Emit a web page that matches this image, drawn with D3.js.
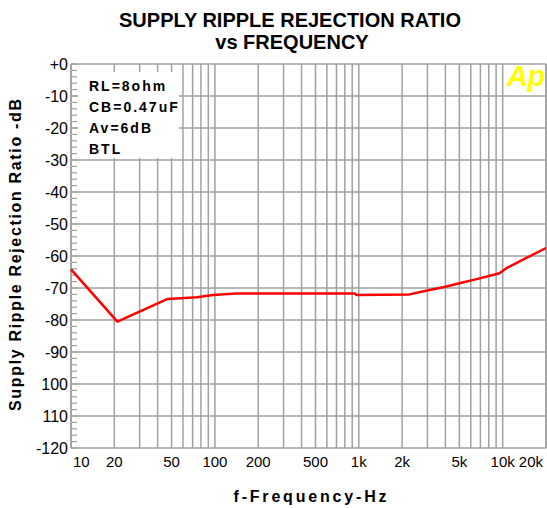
<!DOCTYPE html>
<html>
<head>
<meta charset="utf-8">
<script src="https://cdn.jsdelivr.net/npm/d3@7"></script>
<style>
  body { margin: 0; background: #fff; }
  svg { display: block; font-family: "Liberation Sans", Arial, sans-serif; }
</style>
</head>
<body>
<div id="chart"></div>
<script>
// Supply ripple rejection vs frequency
const freqHz = [10, 21, 47, 75, 97, 140, 940, 960, 2250, 3100, 4000, 5000, 6500, 9500, 10600, 14500, 20000];
const rejectionDb = [-64.2, -80.5, -73.4, -72.9, -72.2, -71.7, -71.7, -72.2, -72, -70.6, -69.6, -68.5, -67.3, -65.4, -63.8, -60.7, -57.5];

const yTicks = [0, -10, -20, -30, -40, -50, -60, -70, -80, -90, -100, -110, -120];
const yTickLabels = ["+0", "-10", "-20", "-30", "-40", "-50", "-60", "-70", "-80", "-90", "100", "110", "-120"];
const xTicks = [10, 20, 50, 100, 200, 500, 1000, 2000, 5000, 10000, 20000];
const xTickLabels = ["10", "20", "50", "100", "200", "500", "1k", "2k", "5k", "10k", "20k"];
const legendLines = ["RL=8ohm", "CB=0.47uF", "Av=6dB", "BTL"];

const width = 547, height = 508;
const plotLeft = 71, plotRight = 546, plotTop = 64, plotBottom = 448;
const gridColor = "#a0a0a0";

const x = d3.scaleLog().domain([10, 20000]).range([plotLeft, plotRight]);
const y = d3.scaleLinear().domain([0, -120]).range([plotTop, plotBottom]);

const svg = d3.select("#chart").append("svg")
  .attr("width", width)
  .attr("height", height);

// vertical grid: every 1..9 multiple
const gridFreqs = [];
for (let dec = 10; dec <= 10000; dec *= 10) {
  for (let m = 1; m <= 9; m++) {
    const f = dec * m;
    if (f <= 20000) gridFreqs.push(f);
  }
}
gridFreqs.push(20000);

svg.append("g").selectAll("line")
  .data(gridFreqs).enter().append("line")
  .attr("x1", d => x(d)).attr("x2", d => x(d))
  .attr("y1", plotTop).attr("y2", plotBottom)
  .attr("stroke", gridColor).attr("stroke-width", 1.5);

svg.append("g").selectAll("line")
  .data(yTicks).enter().append("line")
  .attr("x1", plotLeft).attr("x2", plotRight)
  .attr("y1", d => y(d)).attr("y2", d => y(d))
  .attr("stroke", gridColor).attr("stroke-width", 1.5);

// legend box hides the grid behind it
svg.append("rect")
  .attr("x", 78).attr("y", 72)
  .attr("width", 101).attr("height", 86)
  .attr("fill", "#fff");

// minor ticks on the y axis every 2 dB
svg.append("g").selectAll("line")
  .data(d3.range(0, -121, -2)).enter().append("line")
  .attr("x1", plotLeft).attr("x2", plotLeft + 6)
  .attr("y1", d => y(d)).attr("y2", d => y(d))
  .attr("stroke", gridColor).attr("stroke-width", 1.2);

svg.append("line")
  .attr("x1", plotLeft).attr("x2", plotLeft)
  .attr("y1", plotTop).attr("y2", plotBottom)
  .attr("stroke", gridColor).attr("stroke-width", 1.5);

// y tick labels
svg.append("g").selectAll("text")
  .data(yTicks).enter().append("text")
  .attr("x", plotLeft - 3)
  .attr("y", d => y(d))
  .attr("dy", "0.36em")
  .attr("text-anchor", "end")
  .style("font-size", "16px")
  .text((d, i) => yTickLabels[i]);

// x tick labels
svg.append("g").selectAll("text")
  .data(xTicks).enter().append("text")
  .attr("x", d => x(d))
  .attr("y", 467)
  .attr("text-anchor", (d, i) => i === 0 ? "start" : (i === xTicks.length - 1 ? "end" : "middle"))
  .attr("dx", (d, i) => i === 0 ? 2 : (i === xTicks.length - 1 ? -3 : 0))
  .style("font-size", "15px")
  .text((d, i) => xTickLabels[i]);

// data line
const line = d3.line()
  .x((d, i) => x(freqHz[i]))
  .y(d => y(d));

svg.append("path")
  .datum(rejectionDb)
  .attr("d", line)
  .attr("fill", "none")
  .attr("stroke", "#ff0000")
  .attr("stroke-width", 2.5)
  .attr("stroke-linejoin", "round");

// legend text
svg.append("g").selectAll("text")
  .data(legendLines).enter().append("text")
  .attr("x", 89)
  .attr("y", (d, i) => 91 + i * 21)
  .style("font-size", "14px")
  .style("font-weight", "bold")
  .style("letter-spacing", "2px")
  .text(d => d);

// Ap logo
svg.append("text")
  .attr("x", 526).attr("y", 86)
  .attr("text-anchor", "middle")
  .style("font-size", "29px")
  .style("font-weight", "bold")
  .style("font-style", "italic")
  .attr("fill", "#ffff00")
  .text("Ap");

// title
svg.append("text")
  .attr("x", 290).attr("y", 27)
  .attr("text-anchor", "middle")
  .style("font-size", "20px")
  .style("font-weight", "bold")
  .text("SUPPLY RIPPLE REJECTION RATIO");
svg.append("text")
  .attr("x", 292).attr("y", 49)
  .attr("text-anchor", "middle")
  .style("font-size", "20px")
  .style("font-weight", "bold")
  .text("vs FREQUENCY");

// axis titles
svg.append("text")
  .attr("x", 310).attr("y", 502)
  .attr("text-anchor", "middle")
  .attr("textLength", 153)
  .attr("lengthAdjust", "spacing")
  .style("font-size", "16px")
  .style("font-weight", "bold")
  .text("f-Frequency-Hz");

svg.append("text")
  .attr("transform", "translate(21,255) rotate(-90)")
  .attr("text-anchor", "middle")
  .attr("textLength", 312)
  .attr("lengthAdjust", "spacing")
  .style("font-size", "16px")
  .style("font-weight", "bold")
  .text("Supply Ripple Rejection Ratio -dB");
</script>
</body>
</html>
